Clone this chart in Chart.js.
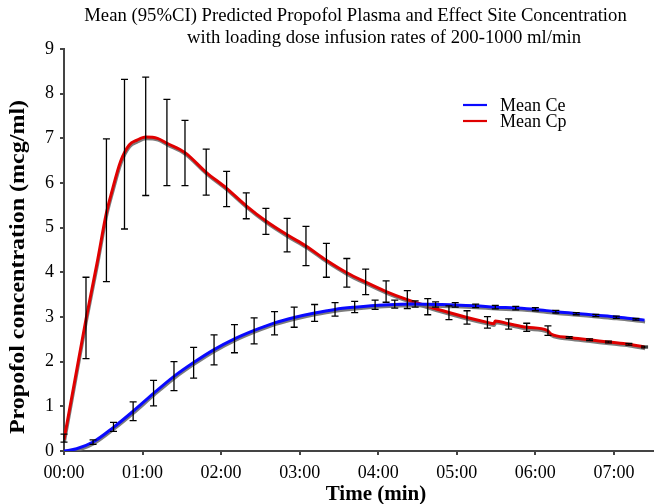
<!DOCTYPE html>
<html>
<head>
<meta charset="utf-8">
<script src="https://cdn.jsdelivr.net/npm/chart.js@4.4.1/dist/chart.umd.min.js"></script>
<style>
  body { margin: 0; background: #fff; }
  canvas { display: block; }
</style>
</head>
<body>
<canvas id="grafico" width="654" height="504"></canvas>
<script>
// Texts
const titleLines = [
  "Mean (95%CI) Predicted Propofol Plasma and Effect Site Concentration",
  "with loading dose infusion rates of 200-1000 ml/min"
];
const xTitle = "Time (min)";
const yTitle = "Propofol concentration (mcg/ml)";
const xTickLabels = ["00:00", "01:00", "02:00", "03:00", "04:00", "05:00", "06:00", "07:00"];

// Mean Ce (effect site), time in minutes
const ceTime = [0, 0.16, 0.37, 0.63, 0.88, 1.14, 1.40, 1.65, 1.91, 2.17, 2.42, 2.68, 2.93, 3.19, 3.45, 3.70, 3.96, 4.21, 4.47, 4.73, 4.98, 5.24, 5.49, 5.75, 6.00, 6.26, 6.52, 6.77, 7.03, 7.28, 7.39];
const ceMean = [0, 0.05, 0.20, 0.53, 0.89, 1.29, 1.67, 1.98, 2.27, 2.51, 2.70, 2.87, 2.99, 3.09, 3.17, 3.22, 3.26, 3.28, 3.29, 3.28, 3.27, 3.25, 3.22, 3.20, 3.17, 3.12, 3.08, 3.04, 3.00, 2.95, 2.93];

// Mean Cp (plasma)
const cpTime = [0, 0.14, 0.28, 0.42, 0.54, 0.61, 0.72, 0.83, 0.93, 1.04, 1.19, 1.31, 1.54, 1.81, 2.07, 2.32, 2.57, 2.84, 3.08, 3.34, 3.60, 3.84, 4.10, 4.37, 4.63, 4.90, 5.13, 5.39, 5.47, 5.49, 5.66, 5.89, 6.15, 6.20, 6.43, 6.69, 6.93, 7.19, 7.39];
const cpMean = [0.25, 1.60, 2.95, 4.20, 5.33, 5.81, 6.48, 6.85, 6.96, 7.03, 7.00, 6.89, 6.68, 6.24, 5.88, 5.49, 5.15, 4.84, 4.59, 4.27, 3.99, 3.78, 3.57, 3.39, 3.24, 3.10, 2.99, 2.88, 2.85, 2.91, 2.85, 2.77, 2.70, 2.62, 2.54, 2.49, 2.44, 2.39, 2.33];

// 95% CI bars
const ceBarTime = [0.37, 0.63, 0.88, 1.14, 1.40, 1.65, 1.91, 2.17, 2.42, 2.68, 2.93, 3.19, 3.45, 3.70, 3.96, 4.21, 4.47, 4.73, 4.98, 5.24, 5.49, 5.75, 6.00, 6.26, 6.52, 6.77, 7.03, 7.28];
const ceBarLow  = [0.15, 0.44, 0.68, 1.01, 1.35, 1.63, 1.93, 2.20, 2.40, 2.60, 2.77, 2.90, 3.02, 3.10, 3.17, 3.20, 3.22, 3.22, 3.22, 3.21, 3.18, 3.16, 3.14, 3.09, 3.05, 3.01, 2.97, 2.93];
const ceBarHigh = [0.25, 0.64, 1.10, 1.58, 2.00, 2.32, 2.60, 2.83, 2.98, 3.12, 3.22, 3.28, 3.32, 3.35, 3.38, 3.38, 3.36, 3.34, 3.32, 3.29, 3.26, 3.24, 3.21, 3.15, 3.10, 3.06, 3.02, 2.97];

const cpBarTime = [0, 0.28, 0.54, 0.77, 1.04, 1.31, 1.54, 1.81, 2.07, 2.32, 2.57, 2.84, 3.08, 3.34, 3.60, 3.84, 4.10, 4.37, 4.63, 4.90, 5.13, 5.39, 5.66, 5.89, 6.16, 6.43, 6.69, 6.93, 7.19, 7.39];
const cpBarLow  = [0.20, 2.07, 3.79, 4.97, 5.72, 5.94, 5.94, 5.73, 5.47, 5.20, 4.85, 4.46, 4.15, 3.89, 3.67, 3.50, 3.33, 3.19, 3.05, 2.94, 2.84, 2.75, 2.73, 2.68, 2.59, 2.52, 2.47, 2.42, 2.37, 2.31];
const cpBarHigh = [0.38, 3.89, 6.99, 8.32, 8.37, 7.87, 7.40, 6.76, 6.26, 5.78, 5.43, 5.21, 5.03, 4.65, 4.31, 4.07, 3.81, 3.59, 3.41, 3.25, 3.14, 3.01, 2.96, 2.86, 2.80, 2.56, 2.51, 2.46, 2.41, 2.35];

const serif = "'Liberation Serif', 'Times New Roman', serif";

function pares(xs, ys) {
  return xs.map((x, i) => ({ x: x, y: ys[i] }));
}

// gray shadow under the mean lines
const sombra = {
  id: 'sombra',
  beforeDatasetDraw(chart) {
    const c = chart.ctx;
    c.save();
    c.shadowColor = 'rgba(110,110,110,0.9)';
    c.shadowOffsetX = 0.5;
    c.shadowOffsetY = 1.8;
    c.shadowBlur = 0;
  },
  afterDatasetDraw(chart) {
    chart.ctx.restore();
  }
};

// error bars
function barras(chart, ts, lo, hi) {
  const c = chart.ctx, sx = chart.scales.x, sy = chart.scales.y;
  c.save();
  c.strokeStyle = '#000';
  c.lineWidth = 1.3;
  ts.forEach((t, i) => {
    const x = sx.getPixelForValue(t);
    const y1 = sy.getPixelForValue(lo[i]);
    const y2 = sy.getPixelForValue(hi[i]);
    c.beginPath();
    c.moveTo(x, y1); c.lineTo(x, y2);
    c.moveTo(x - 3.5, y1); c.lineTo(x + 3.5, y1);
    c.moveTo(x - 3.5, y2); c.lineTo(x + 3.5, y2);
    c.stroke();
  });
  c.restore();
}

// title, axis titles and legend
const extras = {
  id: 'extras',
  afterDatasetsDraw(chart) {
    barras(chart, cpBarTime, cpBarLow, cpBarHigh);
    barras(chart, ceBarTime, ceBarLow, ceBarHigh);
  },
  afterDraw(chart) {
    const c = chart.ctx;
    c.save();
    c.fillStyle = '#000';
    c.font = '18.7px ' + serif;
    c.textAlign = 'center';
    c.textBaseline = 'alphabetic';
    c.fillText(titleLines[0], 355.5, 21);
    c.fillText(titleLines[1], 384, 43);

    c.font = 'bold 21px ' + serif;
    c.fillText(xTitle, 376, 500);

    c.save();
    c.translate(24, 267);
    c.rotate(-Math.PI / 2);
    c.scale(1.2, 1);
    c.font = 'bold 20px ' + serif;
    c.fillText(yTitle, 0, 0);
    c.restore();

    // legend
    c.font = '18px ' + serif;
    c.textAlign = 'left';
    chart.data.datasets.forEach((ds, i) => {
      const y = 105 + i * 16;
      c.strokeStyle = ds.borderColor;
      c.lineWidth = 2.2;
      c.beginPath();
      c.moveTo(463, y); c.lineTo(487, y);
      c.stroke();
      c.fillText(ds.label, 500, y + 6);
    });
    c.restore();
  }
};

new Chart(document.getElementById('grafico'), {
  type: 'line',
  data: {
    datasets: [
      {
        label: 'Mean Ce',
        data: pares(ceTime, ceMean),
        borderColor: '#0a0aff',
        borderWidth: 3,
        pointRadius: 0,
        cubicInterpolationMode: 'monotone'
      },
      {
        label: 'Mean Cp',
        data: pares(cpTime, cpMean),
        borderColor: '#e00000',
        borderWidth: 3,
        pointRadius: 0,
        cubicInterpolationMode: 'monotone'
      }
    ]
  },
  options: {
    responsive: false,
    animation: false,
    layout: { padding: { top: 49, right: 0, left: 0, bottom: 0 } },
    plugins: {
      legend: { display: false },
      tooltip: { enabled: false }
    },
    scales: {
      x: {
        type: 'linear',
        min: 0,
        max: 7.51,
        afterFit: s => { s.height = 53; },
        ticks: {
          stepSize: 1,
          includeBounds: false,
          maxRotation: 0,
          autoSkip: false,
          padding: 7,
          color: '#000',
          font: { family: serif, size: 18 },
          callback: v => xTickLabels[v] ?? ''
        },
        grid: { drawOnChartArea: false, tickLength: 4, color: '#444', lineWidth: 2 },
        border: { color: '#444', width: 2 }
      },
      y: {
        min: 0,
        max: 9,
        afterFit: s => { s.width = 64; },
        ticks: {
          stepSize: 1,
          padding: 6,
          color: '#000',
          font: { family: serif, size: 18 }
        },
        grid: { drawOnChartArea: false, tickLength: 4, color: '#444', lineWidth: 2 },
        border: { color: '#444', width: 2 }
      }
    }
  },
  plugins: [sombra, extras]
});
</script>
</body>
</html>
